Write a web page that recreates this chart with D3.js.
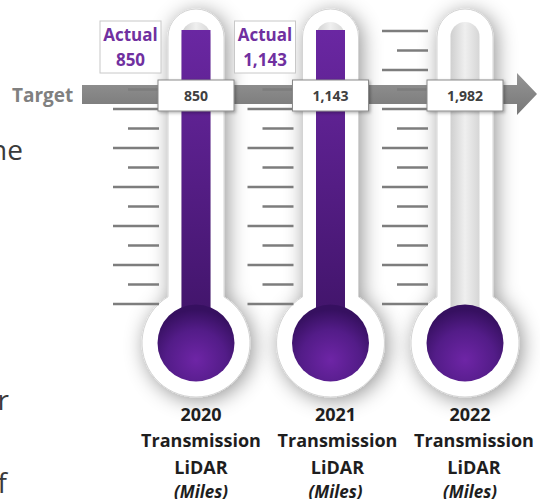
<!DOCTYPE html>
<html>
<head>
<meta charset="utf-8">
<script src="https://cdn.jsdelivr.net/npm/d3@7"></script>
<style>
  body { margin: 0; background: #fff; }
  svg { display: block; font-family: "Open Sans", sans-serif; }
</style>
</head>
<body>
<script>
// chart data
var years = ["2020", "2021", "2022"];
var actual = [850, 1143, 0];
var target = [850, 1143, 1982];
var labelLines = ["Transmission", "LiDAR"];
var unitLabel = "(Miles)";
var targetLabel = "Target";
var actualLabel = "Actual";
// clipped text from a neighbouring column on the left
var sideFragments = ["ne", "r", "f"];

var width = 540, height = 499;
var fmt = d3.format(",");

var tubeTop = 9, tubeHalf = 28, chanHalf = 14.5, chanTop = 22;
var bulbY = 343, bulbR = 54, fillR = 38.5;

var x = d3.scalePoint().domain(years).range([196, 465]);
var tickY = d3.scaleLinear().domain([0, 14]).range([304, 31]);

var svg = d3.select("body").append("svg")
    .attr("width", width)
    .attr("height", height);

var defs = svg.append("defs");

var sh = defs.append("filter").attr("id", "shadow")
    .attr("x", "-80%").attr("y", "-20%").attr("width", "260%").attr("height", "140%");
sh.append("feDropShadow").attr("dx", 3).attr("dy", 3)
    .attr("stdDeviation", 10).attr("flood-color", "#000").attr("flood-opacity", 0.42);

var sh2 = defs.append("filter").attr("id", "boxshadow")
    .attr("x", "-20%").attr("y", "-30%").attr("width", "140%").attr("height", "160%");
sh2.append("feDropShadow").attr("dx", 1.5).attr("dy", 1.5)
    .attr("stdDeviation", 1.5).attr("flood-color", "#000").attr("flood-opacity", 0.3);

var chan = defs.append("linearGradient").attr("id", "chan");
chan.append("stop").attr("offset", "0%").attr("stop-color", "#cfcfcf");
chan.append("stop").attr("offset", "50%").attr("stop-color", "#efefef");
chan.append("stop").attr("offset", "100%").attr("stop-color", "#d6d6d6");

var col = defs.append("linearGradient").attr("id", "col")
    .attr("x1", 0).attr("x2", 0).attr("y1", 0).attr("y2", 1);
col.append("stop").attr("offset", "0%").attr("stop-color", "#6a27a2");
col.append("stop").attr("offset", "100%").attr("stop-color", "#3e1366");

var bulb = defs.append("radialGradient").attr("id", "bulb")
    .attr("cx", "50%").attr("cy", "72%").attr("r", "65%");
bulb.append("stop").attr("offset", "0%").attr("stop-color", "#6e25a6");
bulb.append("stop").attr("offset", "60%").attr("stop-color", "#531c88");
bulb.append("stop").attr("offset", "100%").attr("stop-color", "#361060");

var arrowGrad = defs.append("linearGradient").attr("id", "arrow")
    .attr("x1", 0).attr("x2", 0).attr("y1", 0).attr("y2", 1);
arrowGrad.append("stop").attr("offset", "0%").attr("stop-color", "#959595");
arrowGrad.append("stop").attr("offset", "100%").attr("stop-color", "#777");

// side fragments
var sideY = [160, 410, 493], sideX = [23, 9, 7];
svg.selectAll(".side").data(sideFragments).enter().append("text")
    .attr("class", "side")
    .attr("x", function(d, i) { return sideX[i]; })
    .attr("y", function(d, i) { return sideY[i]; })
    .attr("text-anchor", "end")
    .attr("font-size", 28)
    .attr("fill", "#3a3a3a")
    .text(function(d) { return d; });

var therm = svg.append("g").selectAll(".therm").data(years).enter().append("g")
    .attr("class", "therm");

// outer white body
therm.append("path")
    .attr("filter", "url(#shadow)")
    .attr("fill", "#fff")
    .attr("stroke", "#d4d4d4")
    .attr("d", function(d) {
      var c = x(d), j = bulbY - Math.sqrt(bulbR * bulbR - tubeHalf * tubeHalf);
      return "M" + (c - tubeHalf) + "," + j +
        "L" + (c - tubeHalf) + "," + (tubeTop + tubeHalf) +
        "A" + tubeHalf + "," + tubeHalf + " 0 0 1 " + (c + tubeHalf) + "," + (tubeTop + tubeHalf) +
        "L" + (c + tubeHalf) + "," + j +
        "A" + bulbR + "," + bulbR + " 0 1 1 " + (c - tubeHalf) + "," + j + "Z";
    });

// inner channel
therm.append("path")
    .attr("fill", "url(#chan)")
    .attr("d", function(d) {
      var c = x(d);
      return "M" + (c - chanHalf) + "," + bulbY +
        "L" + (c - chanHalf) + "," + (chanTop + chanHalf) +
        "A" + chanHalf + "," + chanHalf + " 0 0 1 " + (c + chanHalf) + "," + (chanTop + chanHalf) +
        "L" + (c + chanHalf) + "," + bulbY + "Z";
    });

// purple column, scaled to each year's target (top of tube = target)
function fillY(i) {
  return d3.scaleLinear().domain([0, target[i]]).range([bulbY, 30]);
}
therm.append("rect")
    .attr("fill", "url(#col)")
    .attr("x", function(d) { return x(d) - chanHalf; })
    .attr("width", chanHalf * 2)
    .attr("y", function(d, i) { return fillY(i)(actual[i]); })
    .attr("height", function(d, i) { return bulbY - fillY(i)(actual[i]); });

therm.append("circle")
    .attr("cx", function(d) { return x(d); })
    .attr("cy", bulbY)
    .attr("r", fillR)
    .attr("fill", "url(#bulb)");

// target arrow
svg.append("path")
    .attr("fill", "url(#arrow)")
    .attr("d", "M82,85H517V73L537,94L517,115V104H82Z");

svg.append("text")
    .attr("x", 12).attr("y", 102)
    .attr("font-size", 19).attr("font-weight", "bold")
    .attr("fill", "#808080")
    .text(targetLabel);

// scale ticks left of each tube
var ticks = svg.append("g");
years.forEach(function(d) {
  var c = x(d);
  ticks.append("g").selectAll("line").data(d3.range(15)).enter().append("line")
      .attr("x1", function(k) { return k % 2 === 0 ? c - 83 : c - 68; })
      .attr("x2", c - 37)
      .attr("y1", function(k) { return tickY(k); })
      .attr("y2", function(k) { return tickY(k); })
      .attr("stroke", "#7d7d7d")
      .attr("stroke-width", 2.5);
});

// target value boxes
var boxes = svg.append("g").selectAll("g").data(years).enter().append("g");
boxes.append("rect")
    .attr("filter", "url(#boxshadow)")
    .attr("x", function(d) { return x(d) - 38; })
    .attr("y", 80).attr("width", 76).attr("height", 31)
    .attr("fill", "#fff").attr("stroke", "#8a8a8a");

boxes.append("text")
    .attr("x", function(d) { return x(d); })
    .attr("y", 101)
    .attr("text-anchor", "middle")
    .attr("font-size", 14).attr("font-weight", "bold")
    .attr("fill", "#404040")
    .text(function(d, i) { return fmt(target[i]); });

// actual callouts
var act = svg.append("g").selectAll("g")
    .data(years.filter(function(d, i) { return actual[i] > 0; }))
    .enter().append("g");
act.append("rect")
    .attr("x", function(d) { return x(d) - 96; })
    .attr("y", 21).attr("width", 61).attr("height", 52)
    .attr("fill", "#fff").attr("stroke", "#c8c8c8");

act.append("text")
    .attr("x", function(d) { return x(d) - 65.5; })
    .attr("y", 41)
    .attr("text-anchor", "middle")
    .attr("font-size", 17).attr("font-weight", "bold")
    .attr("fill", "#7030a0")
    .text(actualLabel);

act.append("text")
    .attr("x", function(d) { return x(d) - 65.5; })
    .attr("y", 66)
    .attr("text-anchor", "middle")
    .attr("font-size", 17).attr("font-weight", "bold")
    .attr("fill", "#7030a0")
    .text(function(d) { return fmt(actual[years.indexOf(d)]); });

// category labels
var lab = therm.append("text")
    .attr("text-anchor", "middle")
    .attr("font-size", 18).attr("font-weight", "bold")
    .attr("fill", "#1e1e1e");

lab.append("tspan")
    .attr("x", function(d) { return x(d) + 5; })
    .attr("y", 421)
    .text(function(d) { return d; });

labelLines.forEach(function(t, k) {
  lab.append("tspan")
      .attr("x", function(d, i) { return x(d) + 5 + i * 2; })
      .attr("y", 447 + k * 27)
      .text(t);
});

lab.append("tspan")
    .attr("x", function(d) { return x(d) + 5; })
    .attr("y", 498)
    .attr("font-style", "italic")
    .attr("font-size", 17)
    .text(unitLabel);
</script>
</body>
</html>
